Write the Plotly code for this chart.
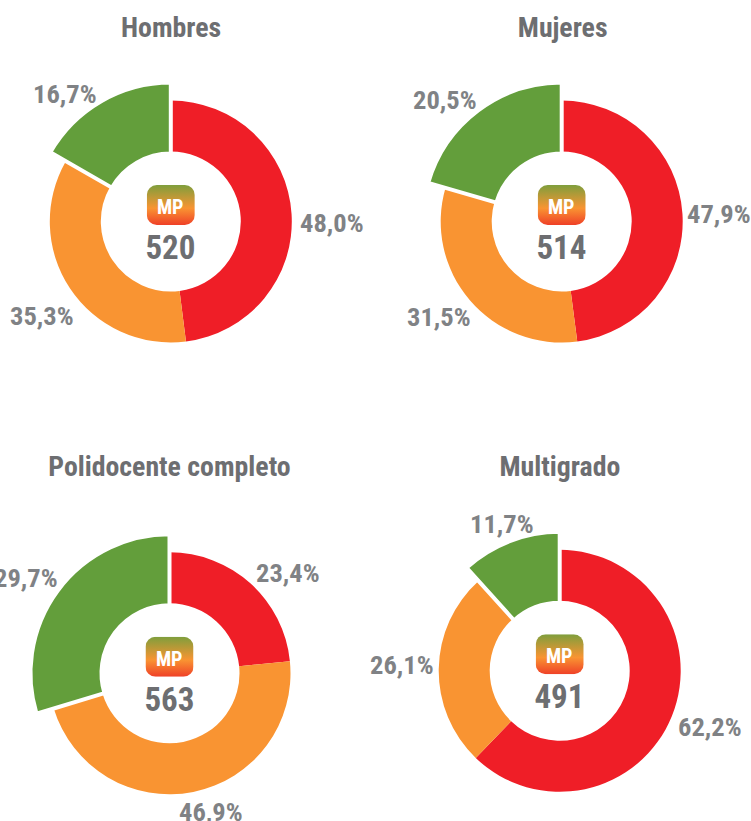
import urllib.parse
import plotly.graph_objects as go

W, H = 751, 821

titles = ["Hombres", "Mujeres", "Polidocente completo", "Multigrado"]
scores = ["520", "514", "563", "491"]
bajo = [48.0, 47.9, 23.4, 62.2]
medio = [35.3, 31.5, 46.9, 26.1]
alto = [16.7, 20.5, 29.7, 11.7]
badge_text = "MP"

RED, ORANGE, GREEN = "#EF1E27", "#F99432", "#639E3B"
NONE = "rgba(0,0,0,0)"
TITLE_COL, LABEL_COL = "#6D6E71", "#808285"
FONT = "Roboto, Liberation Sans, Arial, sans-serif"

# layout in pixels: centre x, centre y, title centre y
centers = [(170.8, 221.5, 28), (561.7, 221.5, 28), (169.5, 673.3, 466), (559.7, 670.8, 466)]
title_x = [171, 562, 169.5, 559.5]
# label centres in pixels, for the red, orange and green slices
label_pos = [
    [(331.5, 223), (42, 315), (65, 93)],
    [(718.7, 213), (438.8, 316.7), (445, 99)],
    [(287.5, 572), (210.7, 811), (26, 577)],
    [(709.7, 726.3), (402, 664.5), (501.7, 523.7)],
]
R_IN, R_OUT, R_BIG, STROKE = 70, 121, 139, 4

svg = ("<svg xmlns='http://www.w3.org/2000/svg' width='48' height='40' viewBox='0 0 48 40'>"
       "<defs><linearGradient id='g' x1='0' y1='0' x2='0' y2='1'>"
       "<stop offset='0' stop-color='#7F9E3C'/><stop offset='0.58' stop-color='#F99432'/>"
       "<stop offset='1' stop-color='#EF4027'/></linearGradient></defs>"
       "<rect width='48' height='40' rx='10' ry='10' fill='url(#g)'/></svg>")
badge_src = "data:image/svg+xml;charset=utf-8," + urllib.parse.quote(svg)


def px_x(x):
    return x / W


def px_y(y):
    return 1 - y / H


fig = go.Figure()
annotations, images = [], []


def note(x, y, text, size, color):
    annotations.append(dict(x=px_x(x), y=px_y(y), xref="paper", yref="paper", text=f"<b>{text}</b>",
                            showarrow=False, xanchor="center", yanchor="middle",
                            font=dict(family=FONT, size=size, color=color)))


for i, t in enumerate(titles):
    cx, cy, ty = centers[i]
    vals = [bajo[i], medio[i], alto[i]]
    for r, inner, cols, widths in [
        (R_OUT, R_IN, [RED, ORANGE, NONE], [0, 0, 0]),
        (R_BIG, R_IN - STROKE / 2, [NONE, NONE, GREEN], [0, 0, STROKE]),
    ]:
        fig.add_trace(go.Pie(
            values=vals, labels=["Rojo", "Naranja", "Verde"], sort=False, direction="clockwise",
            rotation=0, hole=inner / r, textinfo="none", hoverinfo="label+percent", showlegend=False,
            marker=dict(colors=cols, line=dict(color=["#FFFFFF" if w else NONE for w in widths], width=widths)),
            domain=dict(x=[px_x(cx - r), px_x(cx + r)], y=[px_y(cy + r), px_y(cy - r)]),
        ))
    note(title_x[i], ty, t, 27.8, TITLE_COL)
    for v, (lx, ly) in zip(vals, label_pos[i]):
        note(lx, ly, f"{v:.1f}%".replace(".", ","), 26.5, LABEL_COL)
    note(cx, cy + 26, scores[i], 33, TITLE_COL)
    note(cx, cy - 14.5, badge_text, 20, "#FFFFFF")
    images.append(dict(source=badge_src, xref="paper", yref="paper", x=px_x(cx - 24), y=px_y(cy - 36.5),
                       sizex=48 / W, sizey=40 / H, xanchor="left", yanchor="top", sizing="stretch", layer="below"))

fig.update_layout(width=W, height=H, margin=dict(l=0, r=0, t=0, b=0), paper_bgcolor="white",
                  plot_bgcolor="white", annotations=annotations, images=images, autosize=False)
page_css = ("document.body.style.margin='0';"
            "document.querySelectorAll('.annotation-text').forEach(e=>e.style.fontStretch='78%');")
fig.write_html("out.html", config=dict(displayModeBar=False), post_script=page_css)
